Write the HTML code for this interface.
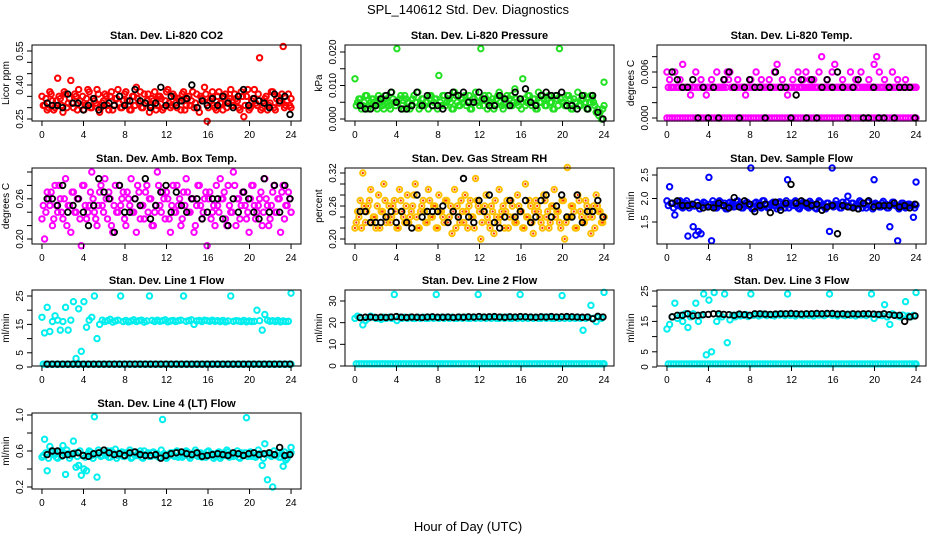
<!DOCTYPE html>
<html><head><meta charset="utf-8">
<style>
html,body{margin:0;padding:0;background:#fff;}
svg{display:block;font-family:"Liberation Sans",sans-serif;}
</style></head>
<body>
<svg id="chart" width="936" height="540" viewBox="0 0 936 540" xmlns="http://www.w3.org/2000/svg">
<text x="468" y="14" text-anchor="middle" font-size="13">SPL_140612  Std. Dev. Diagnostics</text>
<text x="468" y="531" text-anchor="middle" font-size="13">Hour of Day (UTC)</text>
</svg>
<script>
// ---------- data ----------
const xTicks = [0,4,8,12,16,20,24];
const xTickLabels = ["0","4","8","12","16","20","24"];

const co2Red = [.35,.31,.29,.37,.33,.30,.43,.34,.28,.36,.32,.42,.30,.35,.38,.31,.29,.34,.37,.30,.33,.38,.28,.32,.36,.31,.35,.29,.34,.38,.30,.33,.37,.31,.29,.35,.39,.32,.30,.36,.33,.28,.34,.37,.31,.35,.29,.33,.38,.30,.36,.32,.34,.29,.37,.31,.35,.33,.30,.36,.28,.34,.39,.24,.33,.37,.30,.35,.32,.29,.36,.33,.38,.31,.34,.30,.37,.26,.35,.29,.33,.38,.31,.52,.30,.34,.29,.32,.37,.29,.35,.33,.57,.31,.36,.30];
const co2Red2 = [.31,.34,.30,.36,.29,.33,.35,.31,.37,.30,.34,.32,.36,.29,.33,.35,.31,.38,.30,.34,.32,.36,.30,.33,.35,.29,.37,.31,.34,.32,.30,.36,.33,.29,.35,.31,.34,.37,.30,.32,.36,.31,.33,.29,.35,.34,.30,.37,.32,.31,.35,.30,.33,.36,.29,.34,.31,.37,.32,.30,.35,.33,.36,.30,.34,.31,.29,.37,.32,.35,.30,.34,.31,.36,.33,.29,.35,.31,.38,.30,.34,.32,.36,.29,.33,.35,.31,.37,.30,.34,.32,.36,.30,.33,.31,.34];
const co2Black = [.32,.31,.31,.30,.36,.32,.32,.29,.31,.34,.29,.31,.32,.31,.35,.31,.33,.38,.33,.32,.30,.32,.39,.31,.35,.31,.33,.34,.40,.30,.33,.31,.34,.31,.35,.32,.30,.35,.38,.31,.34,.33,.32,.30,.36,.33,.35,.27];

const presGreen = [.012,.005,.006,.004,.007,.003,.005,.006,.004,.007,.005,.003,.006,.004,.008,.005,.021,.006,.004,.007,.005,.003,.006,.005,.008,.004,.006,.005,.003,.007,.005,.006,.013,.004,.007,.005,.006,.003,.008,.005,.004,.006,.007,.005,.003,.006,.008,.005,.021,.004,.006,.007,.005,.003,.006,.008,.004,.005,.007,.006,.004,.009,.005,.006,.012,.004,.007,.005,.006,.003,.008,.005,.006,.004,.007,.005,.003,.006,.021,.005,.004,.007,.006,.003,.005,.008,.004,.006,.005,.003,.007,.005,.002,.001,.000,.011];
const presGreen2 = [.004,.006,.003,.005,.007,.004,.006,.005,.003,.006,.004,.007,.005,.003,.006,.004,.005,.007,.003,.006,.005,.004,.007,.005,.003,.006,.004,.005,.007,.004,.006,.003,.005,.007,.004,.006,.005,.003,.007,.004,.006,.005,.004,.007,.003,.006,.005,.004,.006,.007,.003,.005,.006,.004,.007,.005,.003,.006,.004,.007,.005,.006,.004,.003,.006,.005,.007,.004,.006,.003,.005,.007,.004,.006,.005,.003,.007,.004,.006,.005,.004,.007,.003,.006,.005,.004,.006,.007,.003,.005,.006,.004,.003,.002,.003,.004];
const presBlack = [.004,.003,.003,.004,.006,.007,.008,.005,.003,.003,.004,.008,.004,.007,.004,.004,.003,.007,.008,.007,.008,.005,.005,.008,.006,.004,.004,.007,.006,.004,.008,.006,.009,.005,.004,.007,.008,.007,.007,.008,.004,.004,.003,.007,.003,.007,.002,.000];

const tempMag = [.006,.005,.004,.006,.004,.005,.007,.004,.004,.003,.004,.006,.004,.005,.004,.003,.004,.005,.004,.006,.004,.004,.005,.006,.006,.004,.004,.005,.004,.004,.003,.004,.005,.004,.006,.004,.005,.004,.004,.005,.004,.006,.007,.004,.005,.004,.003,.004,.005,.004,.006,.004,.005,.006,.004,.004,.005,.004,.006,.008,.004,.005,.004,.006,.007,.004,.004,.005,.004,.004,.006,.004,.005,.004,.006,.004,.004,.005,.004,.007,.008,.006,.004,.005,.004,.004,.006,.004,.005,.004,.004,.005,.004,.004,.004,.004];
const tempMag2 = [.004,.004,.004,.004,.004,.004,.004,.004,.004,.004,.004,.004,.004,.004,.004,.004,.004,.004,.004,.004,.004,.004,.004,.005,.004,.004,.004,.004,.004,.004,.004,.004,.004,.004,.004,.004,.004,.004,.004,.004,.004,.004,.004,.004,.004,.004,.004,.004,.004,.004,.004,.004,.004,.004,.005,.004,.004,.004,.004,.004,.004,.004,.004,.004,.004,.004,.004,.004,.004,.004,.004,.004,.004,.004,.004,.004,.004,.004,.004,.004,.004,.004,.004,.004,.004,.004,.004,.004,.004,.004,.004,.004,.004,.004,.004,.004];
const tempMagZero = [0,0,0,0,0,0,0,0,0,0,0,0,0,0,0,0,0,0,0,0,0,0,0,0,0,0,0,0,0,0,0,0,0,0,0,0,0,0,0,0,0,0,0,0,0,0,0,0,0,0,0,0,0,0,0,0,0,0,0,0,0,0,0,0,0,0,0,0,0,0,0,0,0,0,0,0,0,0,0,0,0,0,0,0,0,0,0,0,0,0,0,0,0,0,0,0];
const tempBlack = [.006,.005,.004,.004,.005,.000,.004,.000,.004,.000,.005,.006,.004,.000,.004,.005,.004,.004,.000,.004,.006,.004,.004,.000,.003,.005,.000,.005,.000,.004,.005,.004,.006,.004,.000,.004,.005,.000,.000,.004,.000,.000,.004,.000,.004,.004,.004,.000];

const ambMag = [.23,.20,.27,.25,.22,.28,.24,.26,.23,.29,.25,.21,.27,.24,.26,.19,.28,.23,.25,.30,.24,.22,.27,.25,.29,.23,.26,.21,.28,.24,.25,.27,.22,.26,.29,.24,.21,.27,.25,.23,.28,.26,.22,.24,.30,.25,.27,.23,.26,.21,.28,.24,.25,.22,.27,.29,.24,.26,.21,.25,.28,.23,.26,.19,.27,.24,.22,.25,.29,.26,.23,.28,.24,.30,.22,.26,.25,.27,.23,.21,.28,.25,.24,.26,.22,.29,.25,.23,.27,.24,.26,.21,.28,.25,.27,.24];
const ambMag2 = [.25,.24,.26,.27,.23,.25,.28,.24,.26,.22,.25,.27,.24,.26,.23,.28,.25,.24,.27,.26,.23,.25,.28,.24,.26,.27,.22,.25,.24,.28,.26,.23,.27,.25,.24,.26,.28,.23,.25,.27,.24,.26,.22,.25,.28,.24,.26,.27,.23,.25,.24,.28,.26,.23,.25,.27,.24,.26,.22,.28,.25,.24,.27,.26,.23,.25,.28,.24,.26,.27,.22,.25,.24,.28,.26,.23,.27,.25,.24,.26,.28,.23,.25,.27,.24,.26,.22,.25,.28,.24,.26,.27,.23,.25,.26,.24];
const ambBlack = [.26,.26,.25,.28,.24,.25,.26,.24,.22,.25,.29,.27,.26,.21,.28,.24,.24,.26,.25,.29,.23,.25,.27,.28,.24,.27,.25,.24,.26,.26,.23,.24,.26,.26,.23,.22,.26,.24,.27,.26,.24,.23,.29,.24,.28,.24,.28,.26];

const rhOrange = [.22,.25,.27,.32,.23,.26,.29,.24,.22,.28,.25,.30,.23,.26,.24,.27,.22,.29,.25,.23,.28,.24,.26,.30,.22,.25,.27,.23,.29,.24,.26,.22,.28,.25,.23,.27,.24,.21,.29,.26,.23,.25,.28,.22,.27,.24,.31,.26,.20,.25,.28,.23,.26,.21,.24,.29,.25,.22,.27,.24,.26,.23,.28,.25,.22,.30,.24,.26,.21,.27,.25,.23,.28,.24,.22,.26,.29,.25,.23,.27,.20,.33,.24,.26,.22,.28,.25,.23,.27,.24,.21,.26,.28,.25,.23,.24];
const rhOrange2 = [.23,.24,.22,.26,.25,.27,.23,.24,.26,.22,.25,.27,.24,.23,.26,.25,.22,.27,.24,.26,.23,.25,.28,.24,.22,.26,.25,.23,.27,.24,.26,.22,.25,.24,.27,.23,.26,.25,.22,.24,.27,.23,.25,.26,.24,.22,.27,.25,.23,.26,.24,.22,.25,.27,.23,.24,.26,.25,.22,.27,.24,.23,.26,.25,.22,.24,.27,.23,.25,.26,.24,.22,.27,.25,.23,.26,.24,.25,.22,.27,.23,.24,.26,.25,.22,.27,.24,.23,.26,.25,.24,.22,.26,.25,.23,.24];
const rhBlack = [.25,.25,.23,.23,.23,.24,.25,.23,.25,.23,.22,.28,.24,.25,.25,.25,.26,.23,.25,.24,.31,.24,.23,.27,.25,.28,.23,.22,.24,.27,.24,.25,.27,.23,.24,.27,.28,.24,.26,.28,.24,.24,.28,.23,.25,.25,.27,.24];

const flowBlue = [1.95,2.25,1.90,1.65,1.85,1.95,1.80,1.90,1.20,1.85,1.40,1.22,1.30,1.25,1.92,1.85,2.45,1.10,1.88,1.80,1.95,1.85,1.90,1.78,1.92,1.86,1.83,1.95,1.88,1.80,1.90,1.85,2.65,1.78,1.92,1.86,1.80,1.95,1.88,1.82,1.90,1.85,1.78,1.93,1.86,1.80,2.40,1.90,1.85,1.95,1.80,1.88,1.92,1.84,1.80,1.90,1.86,1.78,1.95,1.85,1.82,1.90,1.30,2.65,1.88,1.85,1.80,1.92,1.86,2.05,1.82,1.90,1.85,1.78,1.92,1.88,1.80,1.95,1.85,2.40,1.88,1.82,1.90,1.85,1.80,1.40,1.92,1.86,1.10,1.85,1.90,1.80,1.88,1.85,1.60,2.35];
const flowBlue2 = [1.85,1.90,1.80,1.88,1.92,1.82,1.86,1.95,1.80,1.88,1.84,1.92,1.78,1.86,1.90,1.82,1.88,1.95,1.80,1.86,1.92,1.84,1.78,1.90,1.86,1.82,1.94,1.88,1.80,1.86,1.92,1.84,1.78,1.90,1.86,1.82,1.95,1.88,1.80,1.86,1.92,1.84,1.90,1.82,1.88,1.95,1.80,1.86,1.92,1.84,1.78,1.90,1.86,1.82,1.94,1.88,1.80,1.86,1.92,1.84,1.78,1.90,1.86,1.82,1.95,1.88,1.80,1.86,1.92,1.84,1.90,1.82,1.88,1.95,1.80,1.86,1.92,1.84,1.78,1.90,1.86,1.82,1.94,1.88,1.80,1.86,1.92,1.84,1.78,1.90,1.86,1.82,1.88,1.85,1.80,1.86];
const flowBlack = [1.90,1.95,1.85,1.85,1.88,1.85,1.80,1.82,1.80,1.90,1.85,1.80,2.02,1.82,1.95,1.88,1.72,1.85,1.88,1.70,1.92,1.75,1.90,2.30,1.90,1.95,1.90,1.85,1.88,1.75,1.82,1.85,1.25,1.85,1.82,1.80,1.78,1.90,1.95,1.82,1.85,1.85,1.85,1.90,1.82,1.85,1.80,1.88];

const line1Cyan = [17.5,12,21,12.5,16,18,16.5,13,16,21,13,16.5,23,3,20.5,5.5,23,14,16.5,17.5,25,10,15,16.5,16,16.3,16.8,15.8,16.2,16.5,25,16,16.4,15.9,16.2,16.6,16,16.3,16.5,15.8,16.2,25,16.4,16,16.5,16.1,16.3,16.6,15.9,16.2,16.4,16,16.3,16.5,25,16.1,16.3,16.6,15,16.2,16.4,16,16.5,16.3,16.1,16.5,16.1,16.3,16,16.4,15.9,16.2,25,16.1,16.3,16.2,16,16.4,15.9,16.2,16,16.1,20,16.3,13,18.5,16.5,16.1,16.3,16,16.4,15.9,16.2,16,16.1,26];
const line1CyanLow = [1,1,1,1,1,1,1,1,1,1,1,1,1,1,1,1,1,1,1,1,1,1,1,1,1,1,1,1,1,1,1,1,1,1,1,1,1,1,1,1,1,1,1,1,1,1,1,1,1,1,1,1,1,1,1,1,1,1,1,1,1,1,1,1,1,1,1,1,1,1,1,1,1,1,1,1,1,1,1,1,1,1,1,1,1,1,1,1,1,1,1,1,1,1,1,1];
const line1Black = [1,1,1,1,1,1,1,1,1,1,1,1,1,1,1,1,1,1,1,1,1,1,1,1,1,1,1,1,1,1,1,1,1,1,1,1,1,1,1,1,1,1,1,1,1,1,1,1];

const line2Cyan = [22,23,22.5,19,21,22,23,22.5,22,22,21.5,22.5,22,22.5,22,33,21,22.5,22,22.5,22,22.5,22,22,22.5,22,22.5,22,22,22.5,22,33,22,22.5,22,22.5,22,22.5,22,22,22.5,22,22.5,22,22,22.5,22,33,22,22.5,22,22.5,22,22.5,22,22,22.5,22,22.5,22,22,22.5,22,33,22,22.5,22,22.5,22,22.5,22,22,22.5,22,22.5,22,22,22.5,22,32.5,22,22.5,22,22.5,22,22.5,22,16.5,22,22.5,28,22,20.5,22.5,22,34];
const line2CyanLow = [1,1,1,1,1,1,1,1,1,1,1,1,1,1,1,1,1,1,1,1,1,1,1,1,1,1,1,1,1,1,1,1,1,1,1,1,1,1,1,1,1,1,1,1,1,1,1,1,1,1,1,1,1,1,1,1,1,1,1,1,1,1,1,1,1,1,1,1,1,1,1,1,1,1,1,1,1,1,1,1,1,1,1,1,1,1,1,1,1,1,1,1,1,1,1,1];
const line2Black = [22.3,22.5,22.6,22.4,22.5,22.4,22.6,22.8,22.5,22.4,22.6,22.5,22.4,22.6,22.7,22.5,22.5,22.6,22.4,22.6,22.5,22.7,22.6,22.8,22.6,22.7,22.8,22.6,22.5,22.7,22.6,22.8,22.7,22.6,22.5,22.7,22.6,22.8,22.6,22.7,22.8,22.7,22.6,22.5,22.6,21.8,22.9,22.6];

const line3Cyan = [12.5,14,16.5,21,16,17,15,17.5,13,16.5,17.5,21,15,17,24,4,22,5,24.5,15,17,16.5,24,8,15.5,17,16.5,17.2,16.8,17,17.3,16.6,24,17,17.2,16.8,17.1,17.4,16.9,17.2,17,16.8,17.3,17.1,17.4,16.9,24,17,17.2,16.8,17.3,17.1,16.9,17.4,17,17.2,16.8,17.3,17.1,17.2,16.9,17.3,24,17,17.2,16.8,17.3,17.1,16.9,17.4,17,17.2,16.8,17.3,17.1,17.2,16.9,17.3,24,16,17.2,17.1,16.9,20.5,16.5,14,17.5,17,16.8,16.5,17.1,21.5,16.8,16.5,17,24.5];
const line3CyanLow = [1,1,1,1,1,1,1,1,1,1,1,1,1,1,1,1,1,1,1,1,1,1,1,1,1,1,1,1,1,1,1,1,1,1,1,1,1,1,1,1,1,1,1,1,1,1,1,1,1,1,1,1,1,1,1,1,1,1,1,1,1,1,1,1,1,1,1,1,1,1,1,1,1,1,1,1,1,1,1,1,1,1,1,1,1,1,1,1,1,1,1,1,1,1,1,1];
const line3Black = [16.5,17,17,17.5,16.8,17,17.2,17.3,17.5,17.5,17.3,17.2,17,17.4,17.2,17,17.5,17.5,17.4,17.3,17.4,17.5,17.5,17.6,17.5,17.4,17.5,17.5,17.6,17.5,17.6,17.6,17.4,17.5,17.3,17.5,17.4,17.5,17.5,17.4,17.3,17.5,17.2,17,17,15,16.5,16.8];

const line4Cyan = [.53,.73,.38,.65,.58,.56,.52,.60,.66,.34,.57,.55,.71,.42,.44,.33,.40,.38,.60,.55,.98,.31,.58,.55,.56,.60,.53,.58,.62,.55,.57,.54,.58,.56,.52,.59,.55,.57,.53,.60,.56,.54,.58,.55,.57,.53,.95,.56,.54,.58,.55,.59,.53,.57,.55,.60,.54,.56,.58,.55,.57,.53,.56,.59,.55,.57,.54,.58,.52,.56,.55,.59,.57,.54,.56,.53,.58,.55,.97,.56,.54,.58,.55,.57,.44,.68,.28,.56,.20,.55,.58,.53,.43,.50,.56,.64];
const line4Cyan2 = [.55,.58,.52,.60,.56,.53,.59,.54,.57,.61,.52,.56,.58,.54,.60,.55,.53,.57,.59,.52,.56,.61,.54,.58,.55,.53,.60,.57,.52,.56,.59,.54,.58,.61,.53,.55,.57,.60,.52,.56,.58,.54,.59,.55,.53,.61,.57,.52,.56,.58,.54,.60,.55,.53,.57,.59,.52,.56,.61,.54,.58,.55,.53,.60,.57,.52,.56,.59,.54,.58,.61,.53,.55,.57,.60,.52,.56,.58,.54,.59,.55,.53,.61,.57,.52,.56,.58,.54,.60,.55,.53,.57,.59,.52,.56,.58];
const line4Black = [.56,.60,.60,.55,.56,.57,.58,.55,.54,.57,.58,.61,.58,.56,.57,.55,.58,.59,.56,.55,.55,.56,.52,.55,.57,.58,.59,.57,.56,.58,.54,.55,.56,.57,.56,.55,.58,.57,.55,.57,.58,.56,.57,.58,.56,.64,.55,.56];

// ---------- layout ----------
const colX = [32, 345, 657];
const rowY = [45, 168, 290, 413];
const BW = 269, BH = 76;

const panels = [
 {name:"co2", title:"Stan. Dev. Li-820 CO2", ylab:"Licor ppm", col:0,row:0, yr:[.25,119,.55,51],
  yticks:[.25,.30,.35,.40,.45,.50,.55], ylabels:["0.25","","","0.40","","","0.55"],
  series:[[co2Red,"#ff0000"],[co2Red2,"#ff0000"]], black:co2Black},
 {name:"pressure", title:"Stan. Dev. Li-820 Pressure", ylab:"kPa", col:1,row:0, yr:[0,119,.02,52],
  yticks:[0,.005,.01,.015,.02], ylabels:["0.000","","0.010","","0.020"],
  series:[[presGreen,"#22e022"],[presGreen2,"#22e022"]], black:presBlack},
 {name:"temp", title:"Stan. Dev. Li-820 Temp.", ylab:"degrees C", col:2,row:0, yr:[0,118,.006,72],
  yticks:[0,.002,.004,.006,.008], ylabels:["0.000","","","0.006",""],
  series:[[tempMag,"#ff00ff"],[tempMag2,"#ff00ff"],[tempMagZero,"#ff00ff"]], black:tempBlack},
 {name:"amb-box-temp", title:"Stan. Dev. Amb. Box Temp.", ylab:"degrees C", col:0,row:1, yr:[.20,239,.30,172],
  yticks:[.20,.22,.24,.26,.28,.30], ylabels:["0.20","","","0.26","",""],
  series:[[ambMag,"#ff00ff"],[ambMag2,"#ff00ff"]], black:ambBlack},
 {name:"gas-rh", title:"Stan. Dev. Gas Stream RH", ylab:"percent", col:1,row:1, yr:[.20,239,.32,173],
  yticks:[.20,.22,.24,.26,.28,.30,.32], ylabels:["0.20","","","0.26","","","0.32"],
  series:[[rhOrange,"#ffc000"],[rhOrange2,"#ffc000"]], black:rhBlack, inner:"#ff3000"},
 {name:"sample-flow", title:"Stan. Dev. Sample Flow", ylab:"ml/min", col:2,row:1, yr:[1.5,222,2.5,175],
  yticks:[1.5,2.0,2.5], ylabels:["1.5","2.0","2.5"],
  series:[[flowBlue,"#0000ff"],[flowBlue2,"#0000ff"]], black:flowBlack},
 {name:"line1-flow", title:"Stan. Dev. Line 1 Flow", ylab:"ml/min", col:0,row:2, yr:[0,367,25,296],
  yticks:[0,5,10,15,20,25], ylabels:["0","5","","15","","25"],
  series:[[line1Cyan,"#00eeee"],[line1CyanLow,"#00eeee"]], black:line1Black},
 {name:"line2-flow", title:"Stan. Dev. Line 2 Flow", ylab:"ml/min", col:1,row:2, yr:[0,366,30,301],
  yticks:[0,10,20,30], ylabels:["0","10","20","30"],
  series:[[line2Cyan,"#00eeee"],[line2CyanLow,"#00eeee"]], black:line2Black},
 {name:"line3-flow", title:"Stan. Dev. Line 3 Flow", ylab:"ml/min", col:2,row:2, yr:[0,367,25,291],
  yticks:[0,5,10,15,20,25], ylabels:["0","5","","15","","25"],
  series:[[line3Cyan,"#00eeee"],[line3CyanLow,"#00eeee"]], black:line3Black},
 {name:"line4-flow", title:"Stan. Dev. Line 4 (LT) Flow", ylab:"ml/min", col:0,row:3, yr:[0.2,487,1.0,415],
  yticks:[.2,.4,.6,.8,1.0], ylabels:["0.2","","0.6","","1.0"],
  series:[[line4Cyan,"#00eeee"],[line4Cyan2,"#00eeee"]], black:line4Black}
];

const NS = "http://www.w3.org/2000/svg";
const svg = document.getElementById("chart");
function mk(tag, attrs, parent){
  const e = document.createElementNS(NS, tag);
  for (const k in attrs) e.setAttribute(k, attrs[k]);
  (parent||svg).appendChild(e);
  return e;
}

panels.forEach(p => {
  const L = colX[p.col], T = rowY[p.row], R = L + BW, B = T + BH;
  const xS = h => L + (h + 0.96) * BW / 25.92;
  const ky = (p.yr[3] - p.yr[1]) / (p.yr[2] - p.yr[0]);
  const yS = v => p.yr[1] + (v - p.yr[0]) * ky;

  const g = mk("g", {});
  
  

  const t = mk("text", {x:(L+R)/2, y:T-6, "text-anchor":"middle", "font-size":"11", "font-weight":"bold"}, g);
  t.textContent = p.title;
  
  

  const yl = mk("text", {x:L-23, y:(T+B)/2, "text-anchor":"middle", "font-size":"10", transform:`rotate(-90 ${L-23} ${(T+B)/2})`}, g);
  yl.textContent = p.ylab;
  
  

  const pg = mk("g", {}, g);
  
  
  p.series.forEach(([vals, color], si) => {
    const off = (si % 2) * 0.5;
    vals.forEach((v, i) => {
      const h = Math.min(24, (i + off) * 24 / (vals.length - 1));
      const c = mk("circle", {cx:xS(h), cy:yS(v), r:2.7, fill:"none", stroke:color, "stroke-width":2}, pg);
      
      
      if (p.inner) {
        const d = mk("circle", {cx:xS(h), cy:yS(v), r:1.1, fill:p.inner}, pg);
        
        
      }
    });
  });
  p.black.forEach((v, i) => {
    const h = 0.5 + i * 23.4 / (p.black.length - 1);
    const c = mk("circle", {cx:xS(h), cy:yS(v), r:2.8, fill:"none", stroke:"#000", "stroke-width":1.8}, pg);
    
    
  });

  const box = mk("rect", {x:L, y:T, width:BW, height:BH, fill:"none", stroke:"#000", "stroke-width":1}, g);
  
  

  xTicks.forEach((tv, i) => {
    const x = xS(tv);
    mk("line", {x1:x, x2:x, y1:B, y2:B+5, stroke:"#000"}, g);
    const lab = mk("text", {x:x, y:B+17, "text-anchor":"middle", "font-size":"10"}, g);
    lab.textContent = xTickLabels[i];
    
    
  });
  p.yticks.forEach((tv, i) => {
    const y = yS(tv);
    mk("line", {x1:L-5, x2:L, y1:y, y2:y, stroke:"#000"}, g);
    if (p.ylabels[i]) {
      const lab = mk("text", {x:L-9, y:y, "text-anchor":"middle", "font-size":"10", transform:`rotate(-90 ${L-9} ${y})`}, g);
      lab.textContent = p.ylabels[i];
      
      
    }
  });
});
</script>
</body></html>
